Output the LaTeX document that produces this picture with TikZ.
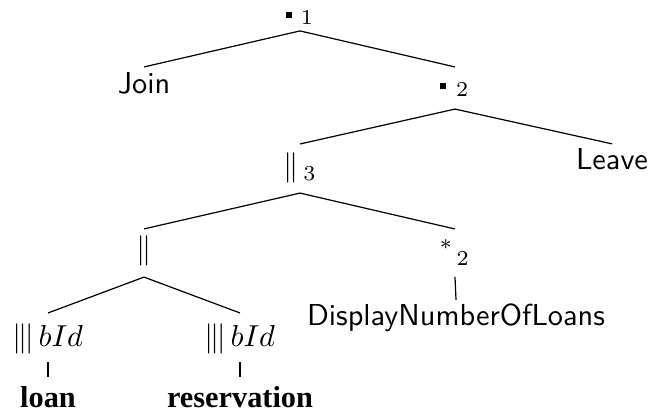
\documentclass[tikz,border=0pt]{standalone}
\usepackage{fontspec}
\newfontfamily\timesf{Liberation Serif}
\newcommand{\opsq}{\rule[0.7pt]{2pt}{2pt}}
\newcommand{\ilv}{\|\mkern-1.8mu|}
\tikzset{
  nd/.style 2 args={anchor=base, inner sep=0pt, outer sep=0pt, text height=#1, text depth=#2},
  sans/.style={font=\sffamily},
  bld/.style={font=\timesf\bfseries},
  edge/.style={line width=0.4pt, draw=black}
}
\begin{document}
\begin{tikzpicture}[x=0.33pt, y=-0.33pt]
\useasboundingbox (0,0) rectangle (651,414);
% nodes
\node[nd={8pt}{3.6pt}] (r) at (300,20) {\opsq\hspace{3pt}${}_{1}$};
\node[sans, nd={8.6pt}{2pt}] (join) at (144,93) {Join};
\node[nd={8.1pt}{5.8pt}] (n2) at (455,91.5) {\opsq\hspace{3.3pt}${}_{2}$};
\node[nd={10.4pt}{5.8pt}] (n3) at (300,175.5) {$\|\,{}_{3}$};
\node[sans, nd={8.3pt}{2pt}] (leave) at (612,169) {Leave};
\node[nd={9.6pt}{6.3pt}] (par) at (144,258) {$\|$};
\node[nd={10.4pt}{5.4pt}] (star) at (455,260.5) {${}^{*}\kern1pt{}_{2}$};
\node[sans, nd={8.3pt}{2pt}] (disp) at (456,325) {DisplayNumberOfLoans};
\node[nd={10.9pt}{5.3pt}] (il) at (48,346) {$\ilv\,bId$};
\node[nd={10.9pt}{5.3pt}] (ir) at (240,346) {$\ilv\,bId$};
\node[bld, nd={9.9pt}{2pt}] (loan) at (48,407) {loan};
\node[bld, nd={9.9pt}{2pt}] (res) at (240,407) {reservation};
% edges
\draw[edge] (r.south) -- (join.north);
\draw[edge] (r.south) -- (n2.north);
\draw[edge] (n2.south) -- (n3.north);
\draw[edge] (n2.south) -- (leave.north);
\draw[edge] (n3.south) -- (par.north);
\draw[edge] (n3.south) -- (star.north);
\draw[edge] (star.south) -- (disp.north);
\draw[edge] (par.south) -- (il.north);
\draw[edge] (par.south) -- (ir.north);
\draw[edge] (il.south) -- (loan.north);
\draw[edge] (ir.south) -- (res.north);
\end{tikzpicture}
\end{document}
